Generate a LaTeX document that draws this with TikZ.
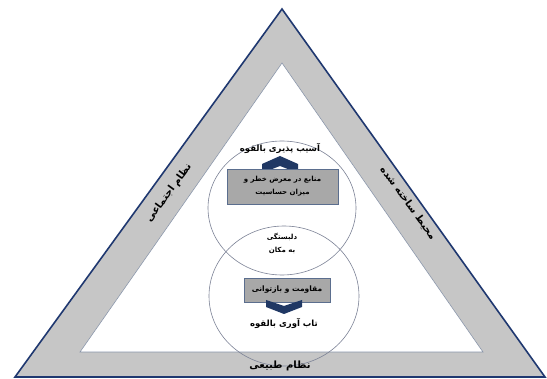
\documentclass[tikz,border=0pt]{standalone}
\usepackage{fontspec}
\TeXXeTstate=1
\newfontfamily\arabicfont[Script=Arabic]{DejaVu Sans}
\newcommand\rtltext[1]{\beginR #1\endR}
\definecolor{bandgray}{HTML}{C6C6C6}
\definecolor{navy}{HTML}{1F3870}
\definecolor{innerline}{HTML}{8A96AA}
\definecolor{ringline}{HTML}{7C8296}
\definecolor{boxfill}{HTML}{A8A8A8}
\definecolor{boxline}{HTML}{5B6E8E}
\definecolor{chev}{HTML}{203864}
\tikzset{
  band/.style={fill=bandgray},
  outerline/.style={draw=navy, line width=1.6pt, line join=miter},
  innertri/.style={fill=white, draw=innerline, line width=0.6pt},
  ring/.style={draw=ringline, line width=0.6pt},
  graybox/.style={rectangle, fill=boxfill, draw=boxline, line width=0.7pt, inner sep=0pt},
  chevshape/.style={fill=chev, draw=none},
  sidelabel/.style={font=\arabicfont\bfseries\fontsize{10}{12}\selectfont, inner sep=0pt},
  titlelabel/.style={font=\arabicfont\bfseries\fontsize{8.5}{10}\selectfont, inner sep=0pt},
  smalllabel/.style={font=\arabicfont\bfseries\fontsize{7}{13}\selectfont, align=center, inner sep=0pt},
}
\begin{document}
\begin{tikzpicture}[x=1pt,y=-1pt]
\useasboundingbox (0,0) rectangle (547,379);
\fill[white] (0,0) rectangle (547,379);
% triangles
\coordinate (A) at (282,9);
\coordinate (B) at (15,377);
\coordinate (C) at (545,377);
\coordinate (a) at (282,63);
\coordinate (b) at (80,352);
\coordinate (c) at (483,352);
\fill[band] (A) -- (B) -- (C) -- cycle;
\draw[outerline] (A) -- (B) -- (C) -- cycle;
\filldraw[innertri] (a) -- (b) -- (c) -- cycle;
% circles
\draw[ring] (282,208) ellipse [x radius=74pt, y radius=67pt];
\draw[ring] (284,296) ellipse [x radius=75pt, y radius=70pt];
% upper chevron and box
\fill[chevshape] (262,173) -- (262,164) -- (280,156) -- (298,164) -- (298,173) -- (280,166) -- cycle;
\node[graybox, minimum width=111pt, minimum height=35pt] (vbox) at (282.5,186.5) {};
\node[smalllabel] (vtext) at (vbox.center) {\rtltext{منابع در معرض خطر و}\\\rtltext{میزان حساسیت}};
\node[titlelabel] (vtitle) at (280,148) {\rtltext{آسیب پذیری بالقوه}};
% middle
\node[smalllabel] (ptext) at (282,243) {\rtltext{دلبستگی}\\\rtltext{به مکان}};
% lower box and chevron
\node[graybox, minimum width=86pt, minimum height=24pt] (rbox) at (287,290) {};
\node[smalllabel, font=\arabicfont\bfseries\fontsize{7.5}{9}\selectfont] (rtext) at (rbox.center) {\rtltext{مقاومت و بازتوانی}};
\fill[chevshape] (266,300) -- (284,306) -- (302,300) -- (302,307) -- (284,314) -- (266,307) -- cycle;
\node[titlelabel] (rtitle) at (284,323) {\rtltext{تاب آوری بالقوه}};
% side labels
\node[sidelabel, rotate=54] (social) at (169,193) {\rtltext{نظام اجتماعی}};
\node[sidelabel, rotate=-54] (built) at (408,203) {\rtltext{محیط ساخته شده}};
\node[sidelabel] (natural) at (280,366) {\rtltext{نظام طبیعی}};
\end{tikzpicture}
\end{document}
